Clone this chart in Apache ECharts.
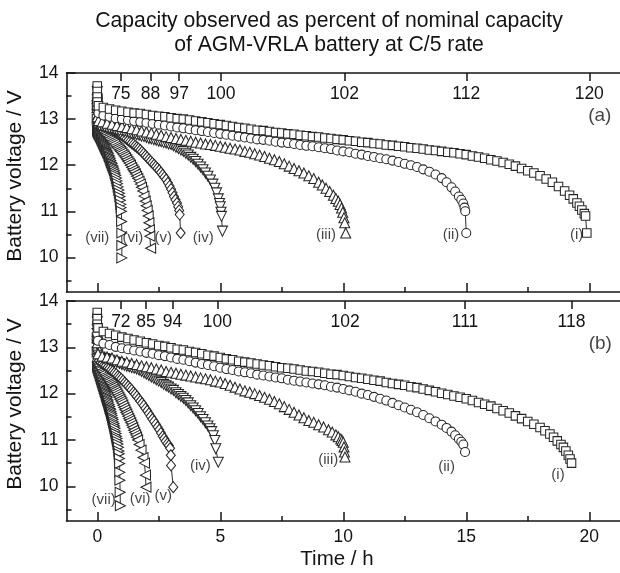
<!DOCTYPE html>
<html><head><meta charset="utf-8">
<script src="https://cdn.jsdelivr.net/npm/echarts@6/dist/echarts.min.js"></script>
<style>html,body{margin:0;padding:0;background:#fff}#c{width:620px;height:573px}</style>
</head><body><div id="c"></div>
<script>
const titleLines = ['Capacity observed as percent of nominal capacity', 'of AGM-VRLA battery at C/5 rate'];
const xTitle = 'Time / h';
const yTitle = 'Battery voltage / V';
const xMajor = [0, 5, 10, 15, 20];
const xMinor = [2.5, 7.5, 12.5, 17.5];
const yMajor = [10, 11, 12, 13, 14];
const yMinor = [9.5, 10.5, 11.5, 12.5, 13.5];
const capTimesA = [0.96, 2.16, 3.33, 5.03, 10.05, 15.0, 20.0];
const capLabelsA = ['75', '88', '97', '100', '102', '112', '120'];
const capTimesB = [0.96, 1.98, 3.06, 4.88, 10.08, 14.95, 19.28];
const capLabelsB = ['72', '85', '94', '100', '102', '111', '118'];
const curveNames = ['(i)', '(ii)', '(iii)', '(iv)', '(v)', '(vi)', '(vii)'];

// Panel (a)
const a1 = [[0,13.72],[0,13.6],[0,13.48],[0,13.37],[0.05,13.29],[0.25,13.25],[0.5,13.22],[0.75,13.19],[1,13.17],[1.25,13.15],[1.5,13.13],[1.75,13.12],[2,13.1],[2.25,13.08],[2.5,13.06],[2.75,13.05],[3,13.03],[3.25,13.01],[3.5,13.0],[3.75,12.98],[4,12.96],[4.25,12.94],[4.5,12.92],[4.75,12.9],[5,12.88],[5.25,12.86],[5.5,12.84],[5.75,12.82],[6,12.8],[6.25,12.78],[6.5,12.76],[6.75,12.75],[7,12.73],[7.25,12.71],[7.5,12.7],[7.75,12.68],[8,12.67],[8.25,12.65],[8.5,12.64],[8.75,12.62],[9,12.61],[9.25,12.59],[9.5,12.58],[9.75,12.56],[10,12.55],[10.25,12.53],[10.5,12.52],[10.75,12.5],[11,12.49],[11.25,12.47],[11.5,12.46],[11.75,12.44],[12,12.43],[12.25,12.41],[12.5,12.4],[12.75,12.38],[13,12.37],[13.25,12.35],[13.5,12.33],[13.75,12.32],[14,12.3],[14.25,12.28],[14.5,12.27],[14.75,12.25],[15,12.23],[15.25,12.2],[15.5,12.18],[15.75,12.15],[16,12.12],[16.25,12.09],[16.5,12.06],[16.75,12.02],[17,11.98],[17.25,11.93],[17.5,11.88],[17.75,11.83],[18,11.77],[18.25,11.7],[18.5,11.63],[18.75,11.54],[19,11.44],[19.2,11.35],[19.35,11.27],[19.5,11.18],[19.6,11.11],[19.7,11.03],[19.8,10.95],[19.85,10.9],[19.9,10.53]];
const a2 = [[0,13.7],[0,13.55],[0,13.4],[0,13.25],[0.05,13.13],[0.25,13.08],[0.5,13.05],[0.75,13.02],[1,13.0],[1.25,12.98],[1.5,12.96],[1.75,12.94],[2,12.92],[2.25,12.9],[2.5,12.88],[2.75,12.86],[3,12.84],[3.25,12.82],[3.5,12.8],[3.75,12.78],[4,12.76],[4.25,12.74],[4.5,12.72],[4.75,12.7],[5,12.68],[5.25,12.66],[5.5,12.64],[5.75,12.62],[6,12.6],[6.25,12.58],[6.5,12.56],[6.75,12.55],[7,12.53],[7.25,12.51],[7.5,12.49],[7.75,12.48],[8,12.46],[8.25,12.44],[8.5,12.42],[8.75,12.41],[9,12.39],[9.25,12.37],[9.5,12.35],[9.75,12.32],[10,12.3],[10.25,12.28],[10.5,12.25],[10.75,12.23],[11,12.2],[11.25,12.18],[11.5,12.15],[11.75,12.13],[12,12.1],[12.25,12.07],[12.5,12.03],[12.75,12.0],[13,11.96],[13.25,11.91],[13.5,11.86],[13.75,11.8],[14,11.72],[14.2,11.63],[14.4,11.52],[14.55,11.43],[14.7,11.32],[14.8,11.25],[14.88,11.17],[14.93,11.08],[14.96,11.0],[15.0,10.53]];
const a3 = [[0,13.65],[0,13.45],[0,13.25],[0,13.05],[0.05,12.97],[0.2,12.94],[0.4,12.91],[0.6,12.89],[0.8,12.86],[1,12.84],[1.2,12.82],[1.4,12.79],[1.6,12.77],[1.8,12.74],[2,12.72],[2.2,12.7],[2.4,12.67],[2.6,12.65],[2.8,12.62],[3,12.6],[3.2,12.58],[3.4,12.56],[3.6,12.54],[3.8,12.52],[4,12.5],[4.2,12.48],[4.4,12.46],[4.6,12.45],[4.8,12.43],[5,12.41],[5.2,12.39],[5.4,12.37],[5.6,12.35],[5.8,12.33],[6,12.3],[6.2,12.28],[6.4,12.25],[6.6,12.22],[6.8,12.19],[7,12.15],[7.2,12.12],[7.4,12.08],[7.6,12.03],[7.8,11.98],[8,11.93],[8.2,11.88],[8.4,11.83],[8.6,11.77],[8.8,11.71],[9,11.63],[9.15,11.57],[9.3,11.5],[9.45,11.43],[9.6,11.35],[9.7,11.28],[9.8,11.22],[9.87,11.15],[9.93,11.07],[9.98,10.98],[10.03,10.86],[10.06,10.75],[10.1,10.53]];
const a4 = [[0,13.6],[0,13.35],[0,13.1],[0.03,12.88],[0.1,12.85],[0.2,12.84],[0.3,12.83],[0.4,12.81],[0.5,12.8],[0.6,12.79],[0.7,12.78],[0.8,12.76],[0.9,12.75],[1,12.74],[1.1,12.73],[1.2,12.72],[1.3,12.7],[1.4,12.69],[1.5,12.68],[1.6,12.66],[1.7,12.65],[1.8,12.63],[1.9,12.62],[2,12.6],[2.1,12.58],[2.2,12.57],[2.3,12.55],[2.4,12.54],[2.5,12.52],[2.6,12.51],[2.7,12.49],[2.8,12.48],[2.9,12.46],[3,12.45],[3.1,12.42],[3.2,12.39],[3.3,12.36],[3.4,12.33],[3.5,12.3],[3.6,12.26],[3.7,12.22],[3.8,12.17],[3.9,12.13],[4,12.08],[4.1,12.02],[4.2,11.96],[4.3,11.9],[4.4,11.83],[4.5,11.76],[4.6,11.68],[4.7,11.59],[4.78,11.5],[4.85,11.4],[4.92,11.27],[4.97,11.17],[5.0,11.1],[5.03,10.98],[5.05,10.89],[5.09,10.57]];
const a5 = [[0,13.5],[0,13.25],[0,13.0],[0.02,12.92],[0.07,12.9],[0.14,12.89],[0.21,12.87],[0.28,12.86],[0.35,12.84],[0.42,12.82],[0.49,12.8],[0.56,12.78],[0.63,12.76],[0.7,12.74],[0.77,12.72],[0.84,12.7],[0.91,12.68],[0.98,12.66],[1.05,12.63],[1.12,12.6],[1.19,12.57],[1.26,12.54],[1.33,12.51],[1.4,12.48],[1.47,12.45],[1.54,12.42],[1.61,12.39],[1.68,12.36],[1.75,12.33],[1.82,12.29],[1.89,12.25],[1.96,12.21],[2.03,12.17],[2.1,12.13],[2.17,12.09],[2.24,12.05],[2.31,12.01],[2.38,11.97],[2.45,11.93],[2.52,11.89],[2.59,11.84],[2.66,11.79],[2.73,11.74],[2.8,11.69],[2.87,11.62],[2.94,11.55],[3.0,11.48],[3.06,11.4],[3.12,11.32],[3.18,11.25],[3.24,11.18],[3.29,11.1],[3.33,11.02],[3.35,10.93],[3.39,10.53]];
const a6 = [[0,13.4],[0,13.15],[0.02,12.86],[0.05,12.84],[0.1,12.81],[0.15,12.79],[0.2,12.76],[0.25,12.73],[0.3,12.7],[0.35,12.67],[0.4,12.64],[0.45,12.61],[0.5,12.58],[0.55,12.55],[0.6,12.52],[0.65,12.49],[0.7,12.46],[0.75,12.42],[0.8,12.39],[0.85,12.36],[0.9,12.33],[0.95,12.3],[1.0,12.27],[1.05,12.23],[1.1,12.2],[1.15,12.16],[1.2,12.12],[1.25,12.08],[1.3,12.04],[1.35,12.0],[1.4,11.95],[1.45,11.9],[1.5,11.86],[1.55,11.81],[1.6,11.76],[1.65,11.71],[1.7,11.65],[1.75,11.59],[1.8,11.52],[1.85,11.44],[1.9,11.33],[1.95,11.22],[1.99,11.12],[2.03,11.02],[2.07,10.9],[2.1,10.75],[2.12,10.6],[2.14,10.46],[2.17,10.2]];
const a7 = [[0,13.3],[0,13.0],[0.01,12.76],[0.025,12.72],[0.05,12.7],[0.075,12.67],[0.1,12.65],[0.125,12.62],[0.15,12.6],[0.175,12.57],[0.2,12.54],[0.225,12.51],[0.25,12.48],[0.275,12.45],[0.3,12.42],[0.325,12.39],[0.35,12.36],[0.375,12.33],[0.4,12.31],[0.425,12.28],[0.45,12.25],[0.475,12.21],[0.5,12.18],[0.525,12.14],[0.55,12.1],[0.575,12.06],[0.6,12.03],[0.625,11.99],[0.65,11.96],[0.675,11.92],[0.7,11.88],[0.725,11.83],[0.75,11.78],[0.775,11.72],[0.8,11.66],[0.825,11.6],[0.85,11.53],[0.875,11.46],[0.9,11.39],[0.92,11.32],[0.94,11.24],[0.96,11.15],[0.97,11.08],[0.98,11.0],[0.99,10.78],[1.0,10.53],[1.0,10.26],[1.0,9.99]];

// Panel (b)
const b1 = [[0,13.75],[0,13.62],[0,13.5],[0.03,13.42],[0.25,13.34],[0.5,13.3],[0.75,13.26],[1,13.22],[1.25,13.19],[1.5,13.16],[1.75,13.13],[2,13.1],[2.25,13.07],[2.5,13.04],[2.75,13.02],[3,12.99],[3.25,12.96],[3.5,12.94],[3.75,12.91],[4,12.89],[4.25,12.86],[4.5,12.83],[4.75,12.81],[5,12.78],[5.25,12.75],[5.5,12.73],[5.75,12.7],[6,12.68],[6.25,12.66],[6.5,12.64],[6.75,12.62],[7,12.6],[7.25,12.58],[7.5,12.56],[7.75,12.55],[8,12.53],[8.25,12.51],[8.5,12.49],[8.75,12.48],[9,12.46],[9.25,12.44],[9.5,12.42],[9.75,12.41],[10,12.39],[10.25,12.37],[10.5,12.35],[10.75,12.33],[11,12.31],[11.25,12.29],[11.5,12.27],[11.75,12.24],[12,12.22],[12.25,12.2],[12.5,12.18],[12.75,12.15],[13,12.13],[13.25,12.1],[13.5,12.07],[13.75,12.04],[14,12.01],[14.25,11.98],[14.5,11.95],[14.75,11.92],[15,11.89],[15.25,11.85],[15.5,11.81],[15.75,11.77],[16,11.73],[16.25,11.68],[16.5,11.63],[16.75,11.58],[17,11.52],[17.25,11.46],[17.5,11.4],[17.75,11.34],[18,11.27],[18.2,11.2],[18.4,11.13],[18.55,11.06],[18.7,10.98],[18.85,10.9],[18.95,10.84],[19.05,10.76],[19.15,10.67],[19.22,10.59],[19.28,10.5]];
const b2 = [[0,13.7],[0,13.5],[0,13.3],[0.03,13.14],[0.25,13.08],[0.5,13.05],[0.75,13.01],[1,12.98],[1.25,12.96],[1.5,12.93],[1.75,12.91],[2,12.88],[2.25,12.86],[2.5,12.83],[2.75,12.81],[3,12.78],[3.25,12.75],[3.5,12.73],[3.75,12.7],[4,12.67],[4.25,12.64],[4.5,12.62],[4.75,12.59],[5,12.56],[5.25,12.53],[5.5,12.51],[5.75,12.48],[6,12.46],[6.25,12.44],[6.5,12.41],[6.75,12.39],[7,12.37],[7.25,12.35],[7.5,12.33],[7.75,12.3],[8,12.28],[8.25,12.26],[8.5,12.24],[8.75,12.22],[9,12.2],[9.25,12.18],[9.5,12.15],[9.75,12.13],[10,12.1],[10.25,12.07],[10.5,12.04],[10.75,12.0],[11,11.97],[11.25,11.93],[11.5,11.89],[11.75,11.85],[12,11.8],[12.25,11.75],[12.5,11.7],[12.75,11.65],[13,11.6],[13.25,11.54],[13.5,11.47],[13.75,11.4],[14,11.33],[14.2,11.26],[14.4,11.18],[14.55,11.1],[14.7,11.02],[14.8,10.96],[14.88,10.9],[14.95,10.74]];
const b3 = [[0,13.6],[0,13.35],[0,13.1],[0.03,12.86],[0.2,12.81],[0.4,12.79],[0.6,12.77],[0.8,12.73],[1,12.7],[1.2,12.68],[1.4,12.65],[1.6,12.63],[1.8,12.6],[2,12.58],[2.2,12.56],[2.4,12.53],[2.6,12.51],[2.8,12.48],[3,12.46],[3.2,12.44],[3.4,12.42],[3.6,12.4],[3.8,12.38],[4,12.36],[4.2,12.34],[4.4,12.32],[4.6,12.3],[4.8,12.27],[5,12.25],[5.2,12.22],[5.4,12.18],[5.6,12.14],[5.8,12.1],[6,12.06],[6.2,12.03],[6.4,12.0],[6.6,11.96],[6.8,11.92],[7,11.88],[7.2,11.83],[7.4,11.78],[7.6,11.72],[7.8,11.66],[8,11.6],[8.2,11.54],[8.4,11.48],[8.6,11.42],[8.8,11.38],[9,11.33],[9.2,11.28],[9.4,11.22],[9.55,11.17],[9.7,11.11],[9.8,11.07],[9.9,11.02],[9.95,10.99],[10.0,10.95],[10.03,10.85],[10.05,10.74],[10.07,10.63]];
const b4 = [[0,13.55],[0,13.3],[0,13.05],[0.02,12.83],[0.1,12.79],[0.2,12.77],[0.3,12.76],[0.4,12.74],[0.5,12.72],[0.6,12.7],[0.7,12.68],[0.8,12.67],[0.9,12.65],[1,12.63],[1.1,12.61],[1.2,12.59],[1.3,12.58],[1.4,12.56],[1.5,12.55],[1.6,12.53],[1.7,12.51],[1.8,12.48],[1.9,12.45],[2,12.42],[2.1,12.39],[2.2,12.36],[2.3,12.33],[2.4,12.3],[2.5,12.27],[2.6,12.24],[2.7,12.2],[2.8,12.17],[2.9,12.14],[3,12.1],[3.1,12.07],[3.2,12.02],[3.3,11.98],[3.4,11.94],[3.5,11.9],[3.6,11.85],[3.7,11.8],[3.8,11.74],[3.9,11.69],[4,11.63],[4.1,11.57],[4.2,11.5],[4.3,11.44],[4.4,11.37],[4.5,11.3],[4.58,11.24],[4.65,11.18],[4.72,11.09],[4.78,10.99],[4.82,10.81],[4.92,10.52]];
const b5 = [[0,13.5],[0,13.2],[0,12.95],[0.02,12.75],[0.07,12.71],[0.14,12.68],[0.21,12.65],[0.28,12.62],[0.35,12.6],[0.42,12.57],[0.49,12.54],[0.56,12.51],[0.63,12.48],[0.7,12.45],[0.77,12.42],[0.84,12.38],[0.91,12.35],[0.98,12.32],[1.05,12.28],[1.12,12.24],[1.19,12.2],[1.26,12.16],[1.33,12.12],[1.4,12.08],[1.47,12.03],[1.54,11.99],[1.61,11.94],[1.68,11.89],[1.75,11.84],[1.82,11.79],[1.89,11.74],[1.96,11.68],[2.03,11.63],[2.1,11.57],[2.17,11.51],[2.24,11.45],[2.31,11.4],[2.38,11.34],[2.45,11.28],[2.52,11.22],[2.59,11.15],[2.66,11.08],[2.72,11.03],[2.78,10.97],[2.85,10.92],[2.91,10.88],[2.96,10.82],[2.99,10.67],[3.0,10.45],[3.09,9.98]];
const b6 = [[0,13.4],[0,13.1],[0,12.85],[0.01,12.68],[0.04,12.64],[0.08,12.61],[0.12,12.57],[0.16,12.54],[0.2,12.5],[0.24,12.47],[0.28,12.44],[0.32,12.4],[0.36,12.37],[0.4,12.34],[0.44,12.31],[0.48,12.28],[0.52,12.24],[0.56,12.21],[0.6,12.18],[0.64,12.15],[0.68,12.11],[0.72,12.08],[0.76,12.04],[0.8,12.0],[0.84,11.96],[0.88,11.92],[0.92,11.88],[0.96,11.84],[1.0,11.8],[1.04,11.75],[1.08,11.7],[1.12,11.65],[1.16,11.6],[1.2,11.56],[1.24,11.51],[1.28,11.46],[1.32,11.42],[1.36,11.37],[1.4,11.32],[1.44,11.27],[1.48,11.21],[1.52,11.16],[1.56,11.11],[1.6,11.06],[1.64,11.0],[1.7,10.9],[1.78,10.78],[1.86,10.62],[1.92,10.5],[1.96,10.24],[1.98,9.98]];
const b7 = [[0,13.2],[0,12.9],[0.01,12.6],[0.02,12.57],[0.04,12.54],[0.06,12.5],[0.08,12.47],[0.1,12.44],[0.12,12.4],[0.14,12.37],[0.16,12.33],[0.18,12.3],[0.2,12.26],[0.22,12.23],[0.24,12.19],[0.26,12.16],[0.28,12.12],[0.3,12.09],[0.32,12.05],[0.34,12.02],[0.36,11.98],[0.38,11.94],[0.4,11.91],[0.42,11.87],[0.44,11.84],[0.46,11.8],[0.48,11.76],[0.5,11.72],[0.52,11.68],[0.54,11.65],[0.56,11.61],[0.58,11.57],[0.6,11.53],[0.62,11.48],[0.64,11.44],[0.66,11.39],[0.68,11.35],[0.7,11.3],[0.72,11.25],[0.74,11.19],[0.76,11.14],[0.78,11.08],[0.8,11.03],[0.82,10.97],[0.84,10.91],[0.86,10.84],[0.88,10.76],[0.89,10.7],[0.9,10.6],[0.91,10.49],[0.915,10.3],[0.92,10.13],[0.93,9.87],[0.94,9.58]];

// curve annotation anchors [text, time, voltage]
const notesA = [['(i)',19.49,10.49],['(ii)',14.38,10.49],['(iii)',9.3,10.49],['(iv)',4.31,10.42],['(v)',2.68,10.42],['(vi)',1.45,10.42],['(vii)',0.0,10.42]];
const notesB = [['(i)',18.73,10.24],['(ii)',14.2,10.41],['(iii)',9.39,10.56],['(iv)',4.19,10.43],['(v)',2.68,9.8],['(vi)',1.74,9.73],['(vii)',0.26,9.71]];
const panelTags = [['(a)',20.43,13.07],['(b)',20.45,13.08]];

const FONT = "'Liberation Sans', Arial, Helvetica, sans-serif";
const INK = '#141414';
const X_MIN = -1.25, X_MAX = 21.25, Y_MIN = 9.25, Y_MAX = 14;

const symbols = [
  {symbol: 'rect', size: 8.5, rot: 0},
  {symbol: 'circle', size: 9, rot: 0},
  {symbol: 'triangle', size: 10, rot: 0},
  {symbol: 'triangle', size: 10, rot: 180},
  {symbol: 'diamond', size: [9, 11], rot: 0},
  {symbol: 'triangle', size: 10, rot: 90},
  {symbol: 'triangle', size: 10, rot: -90}
];

function bottomAxes(grid, showLabels) {
  return [
    {type: 'value', gridIndex: grid, position: 'bottom', min: X_MIN, max: X_MAX,
     axisLine: {show: true, onZero: false, lineStyle: {color: INK, width: 1.6}},
     axisTick: {show: true, inside: true, length: 9, customValues: xMajor, lineStyle: {color: INK, width: 1.5}},
     axisLabel: {show: showLabels, customValues: xMajor, margin: 7, color: INK, fontSize: 17.5, fontFamily: FONT},
     splitLine: {show: false}},
    {type: 'value', gridIndex: grid, position: 'bottom', min: X_MIN, max: X_MAX,
     axisLine: {show: false, onZero: false},
     axisTick: {show: true, inside: true, length: 5, customValues: xMinor, lineStyle: {color: INK, width: 1.5}},
     axisLabel: {show: false}, splitLine: {show: false}}
  ];
}
function topAxis(grid, times, labels) {
  return {type: 'value', gridIndex: grid, position: 'top', min: X_MIN, max: X_MAX,
    axisLine: {show: true, onZero: false, lineStyle: {color: INK, width: 1.6}},
    axisTick: {show: true, inside: true, length: 8, customValues: times, lineStyle: {color: INK, width: 1.5}},
    axisLabel: {show: true, inside: true, margin: 12, customValues: times, color: INK, fontSize: 17.5, fontFamily: FONT,
      formatter: v => { const i = times.findIndex(t => Math.abs(t - v) < 1e-6); return i >= 0 ? labels[i] : ''; }},
    splitLine: {show: false}};
}
function yAxes(grid) {
  return [
    {type: 'value', gridIndex: grid, position: 'left', min: Y_MIN, max: Y_MAX,
     axisLine: {show: true, onZero: false, lineStyle: {color: INK, width: 1.6}},
     axisTick: {show: true, inside: true, length: 9, customValues: yMajor, lineStyle: {color: INK, width: 1.5}},
     axisLabel: {show: true, customValues: yMajor, margin: 8, color: INK, fontSize: 17.5, fontFamily: FONT},
     splitLine: {show: false}},
    {type: 'value', gridIndex: grid, position: 'left', min: Y_MIN, max: Y_MAX,
     axisLine: {show: false, onZero: false},
     axisTick: {show: true, inside: true, length: 5, customValues: yMinor, lineStyle: {color: INK, width: 1.5}},
     axisLabel: {show: false}, splitLine: {show: false}}
  ];
}

const xAxis = [...bottomAxes(0, false), topAxis(0, capTimesA, capLabelsA), ...bottomAxes(1, true), topAxis(1, capTimesB, capLabelsB)];
const yAxis = [...yAxes(0), ...yAxes(1)];

const series = [];
function addCurves(datasets, xi, yi) {
  datasets.forEach((d, k) => {
    const s = symbols[k];
    series.push({
      type: 'line', name: curveNames[k], data: d, xAxisIndex: xi, yAxisIndex: yi,
      symbol: s.symbol, symbolSize: s.size, symbolRotate: s.rot, showAllSymbol: true,
      lineStyle: {color: INK, width: 0.9},
      itemStyle: {color: '#ffffff', borderColor: '#262626', borderWidth: 1.05},
      emphasis: {disabled: true}, silent: true, z: 2 + (7 - k)
    });
  });
}
addCurves([a1, a2, a3, a4, a5, a6, a7], 0, 0);
addCurves([b1, b2, b3, b4, b5, b6, b7], 3, 2);

function addNotes(notes, tag, xi, yi) {
  series.push({
    type: 'scatter', xAxisIndex: xi, yAxisIndex: yi, symbolSize: 1, silent: true, z: 20,
    itemStyle: {color: 'rgba(0,0,0,0)'},
    data: notes.map(n => ({name: n[0], value: [n[1], n[2]]})),
    label: {show: true, position: 'inside', formatter: '{b}', color: INK, fontSize: 15, fontFamily: FONT}
  });
  series.push({
    type: 'scatter', xAxisIndex: xi, yAxisIndex: yi, symbolSize: 1, silent: true, z: 20,
    itemStyle: {color: 'rgba(0,0,0,0)'},
    data: [{name: tag[0], value: [tag[1], tag[2]]}],
    label: {show: true, position: 'inside', formatter: '{b}', color: INK, fontSize: 19, fontFamily: FONT}
  });
}
addNotes(notesA, panelTags[0], 0, 0);
addNotes(notesB, panelTags[1], 3, 2);

const txt = (text, x, y, size, rot) => ({type: 'text', x: x, y: y, rotation: rot || 0, silent: true,
  style: {text: text, font: size + 'px ' + FONT, fill: INK, textAlign: 'center', textVerticalAlign: 'middle', align: 'center', verticalAlign: 'middle'}});

const chart = echarts.init(document.getElementById('c'), null, {renderer: 'canvas'});
chart.setOption({
  animation: false,
  backgroundColor: '#ffffff',
  grid: [
    {left: 66.5, right: 0, top: 73, height: 219},
    {left: 66.5, right: 0, top: 301, height: 220}
  ],
  xAxis: xAxis,
  yAxis: yAxis,
  series: series,
  graphic: [
    txt(titleLines[0], 329, 21, 21.2),
    txt(titleLines[1], 329, 45, 21.2),
    txt(yTitle, 15, 176, 21, Math.PI / 2),
    txt(yTitle, 15, 404, 21, Math.PI / 2),
    txt(xTitle, 337, 559, 20.5)
  ]
});
</script></body></html>
